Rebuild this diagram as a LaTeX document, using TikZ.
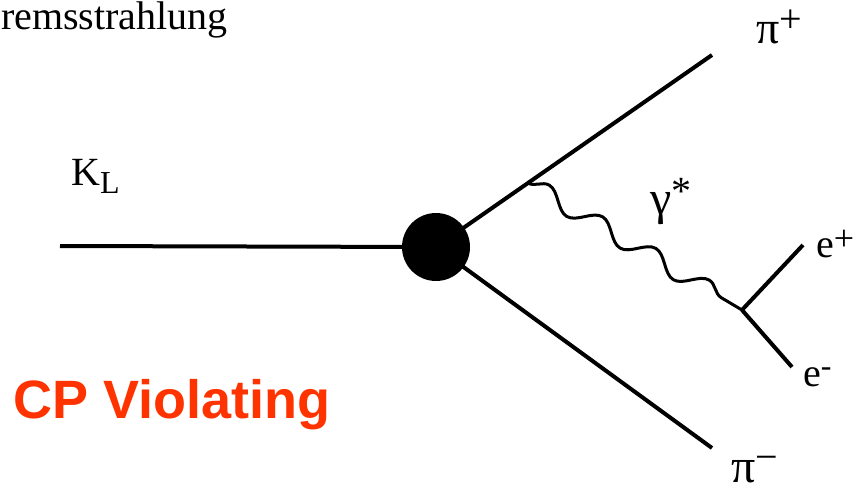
\documentclass[tikz,border=0pt]{standalone}
\usepackage{fontspec}
\setmainfont{Liberation Serif}
\newfontfamily\cpfont{Liberation Sans}
\usetikzlibrary{decorations.pathmorphing}
\definecolor{cpred}{HTML}{FF3300}
\tikzset{
  lbl/.style={inner sep=0pt, anchor=base west, font=\fontsize{40}{44}\selectfont},
  fermion/.style={line width=4pt},
  photon/.style={line width=3pt, decorate, decoration={snake, segment length=62pt, amplitude=9pt}}
}
\newcommand{\greek}[2]{{\fontsize{#1}{#1}\selectfont #2}}
\newcommand{\sups}[3]{\raisebox{#2}{\fontsize{#1}{#1}\selectfont #3}}
\begin{document}
\begin{tikzpicture}[x=1pt,y=-1pt]
\useasboundingbox (0,0) rectangle (865,490);
% vertices
\node[circle, fill=black, minimum size=68pt, inner sep=0pt] (blob) at (436,247) {};
\coordinate (kin) at (60,246);
\coordinate (pip) at (712,55);
\coordinate (pim) at (712,448);
\coordinate (wv) at (528,183);
\coordinate (vx) at (742,310);
\coordinate (ep) at (803,245);
\coordinate (em) at (792,367);
% lines
\draw[fermion] (kin) -- (blob);
\draw[fermion] (blob.center) -- (pip);
\draw[fermion] (blob.center) -- (pim);
\draw[photon] (wv) -- (vx);
\draw[fermion] (vx) -- (ep);
\draw[fermion] (vx) -- (em);
% labels
\node[lbl] (brems) at (1,29) {\smash{remsstrahlung}};
\node[lbl] (kl) at (71,185) {K\sups{32}{-8pt}{L}};
\node[lbl] (lpip) at (756,43) {\greek{46}{π}\sups{40}{11pt}{+}};
\node[lbl] (lpim) at (731,482) {\smash{\greek{48}{π}\sups{40}{12pt}{−}}};
\node[lbl] (lgam) at (650,214) {\greek{48}{γ}\sups{40}{10pt}{*}};
\node[lbl] (lep) at (816,257) {e\sups{36}{7pt}{+}};
\node[lbl] (lem) at (803,386) {e\sups{32}{10pt}{-}};
\node[inner sep=0pt, anchor=base west, text=cpred, font=\cpfont\bfseries\fontsize{54}{60}\selectfont] (cp) at (13,418) {CP Violating};
\end{tikzpicture}
\end{document}
